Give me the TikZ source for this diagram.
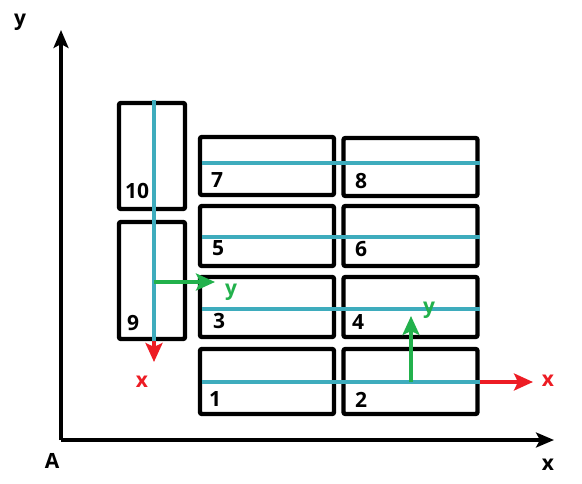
\documentclass[tikz,border=0pt]{standalone}
\usepackage{fontspec}
\setmainfont{Open Sans}
\usepackage{xcolor}
\usetikzlibrary{arrows.meta}
\definecolor{cteal}{RGB}{62,172,189}
\definecolor{cgreen}{RGB}{34,177,76}
\definecolor{cred}{RGB}{237,28,36}

\begin{document}
\begin{tikzpicture}[x=1pt,y=-1pt,
  box/.style={draw=black, line width=4.4pt, rounded corners=2pt, inner sep=0pt,
              minimum width=134pt},
  num/.style={font=\bfseries\fontsize{21}{21}\selectfont, inner sep=0pt},
  axis/.style={line width=3.2pt, -{Stealth[length=18pt,width=15pt,inset=4pt]}},
  seam/.style={draw=cteal, line width=3.6pt},
  ar/.style={line width=3.6pt, -{Stealth[length=19pt,width=17pt,inset=4pt]}}]
\useasboundingbox (0,0) rectangle (582,484);
% axes
\coordinate (A) at (61,440);
\coordinate (ytip) at (61,30);
\coordinate (xtip) at (554,440);
\draw[axis] (A) -- (ytip);
\draw[axis] (A) -- (xtip);
\node[num] (ya) at (20,22) {y};
\node[num] (oa) at (52,461) {A};
\node[num] (xa) at (548,465) {x};
% boxes
\node[box, minimum width=66pt, minimum height=106pt] (b10) at (152,156) {};
\node[box, minimum width=66pt, minimum height=117pt] (b9) at (152,280.5) {};
\node[box, minimum height=58pt] (b7) at (267,166) {};
\node[box, minimum height=58pt] (b8) at (410.5,167) {};
\node[box, minimum height=60pt] (b5) at (267,236) {};
\node[box, minimum height=60pt] (b6) at (410.5,236) {};
\node[box, minimum height=60pt] (b3) at (267,307) {};
\node[box, minimum height=60pt] (b4) at (410.5,307) {};
\node[box, minimum height=65pt] (b1) at (267,381.5) {};
\node[box, minimum height=65pt] (b2) at (410.5,381.5) {};
\node[num] (n10) at (137,191) {10};
\node[num] (n9) at (133,323) {9};
\node[num] (n7) at (217,180) {7};
\node[num] (n8) at (361,181) {8};
\node[num] (n5) at (218,248) {5};
\node[num] (n6) at (361,249) {6};
\node[num] (n3) at (219,321) {3};
\node[num] (n4) at (358,322) {4};
\node[num] (n1) at (215,399) {1};
\node[num] (n2) at (361,400) {2};
% seams
\coordinate (s10) at (154,100);
\coordinate (s9) at (154,341);
\draw[seam] (s10) -- (s9);
\foreach \r/\y in {78/163,56/237,34/309,12/382}{
  \coordinate (l\r) at (202,\y);
  \coordinate (r\r) at (480,\y);
  \draw[seam] (l\r) -- (r\r);
}
% frames
\coordinate (o9) at (154,282);
\coordinate (x9) at (154,362);
\coordinate (y9) at (215,282);
\draw[ar, draw=cred, fill=cred] (s9) -- (x9);
\draw[ar, draw=cgreen, fill=cgreen] (o9) -- (y9);
\node[num, text=cred] (x9l) at (142,382) {x};
\node[num, text=cgreen] (y9l) at (231,292) {y};
\coordinate (o2) at (411,382);
\coordinate (x2) at (533,382);
\coordinate (y2) at (411,316);
\draw[ar, draw=cred, fill=cred] (r12) -- (x2);
\draw[ar, draw=cgreen, fill=cgreen] (o2) -- (y2);
\node[num, text=cred] (x2l) at (548,381) {x};
\node[num, text=cgreen] (y2l) at (429,310) {y};
\end{tikzpicture}
\end{document}
